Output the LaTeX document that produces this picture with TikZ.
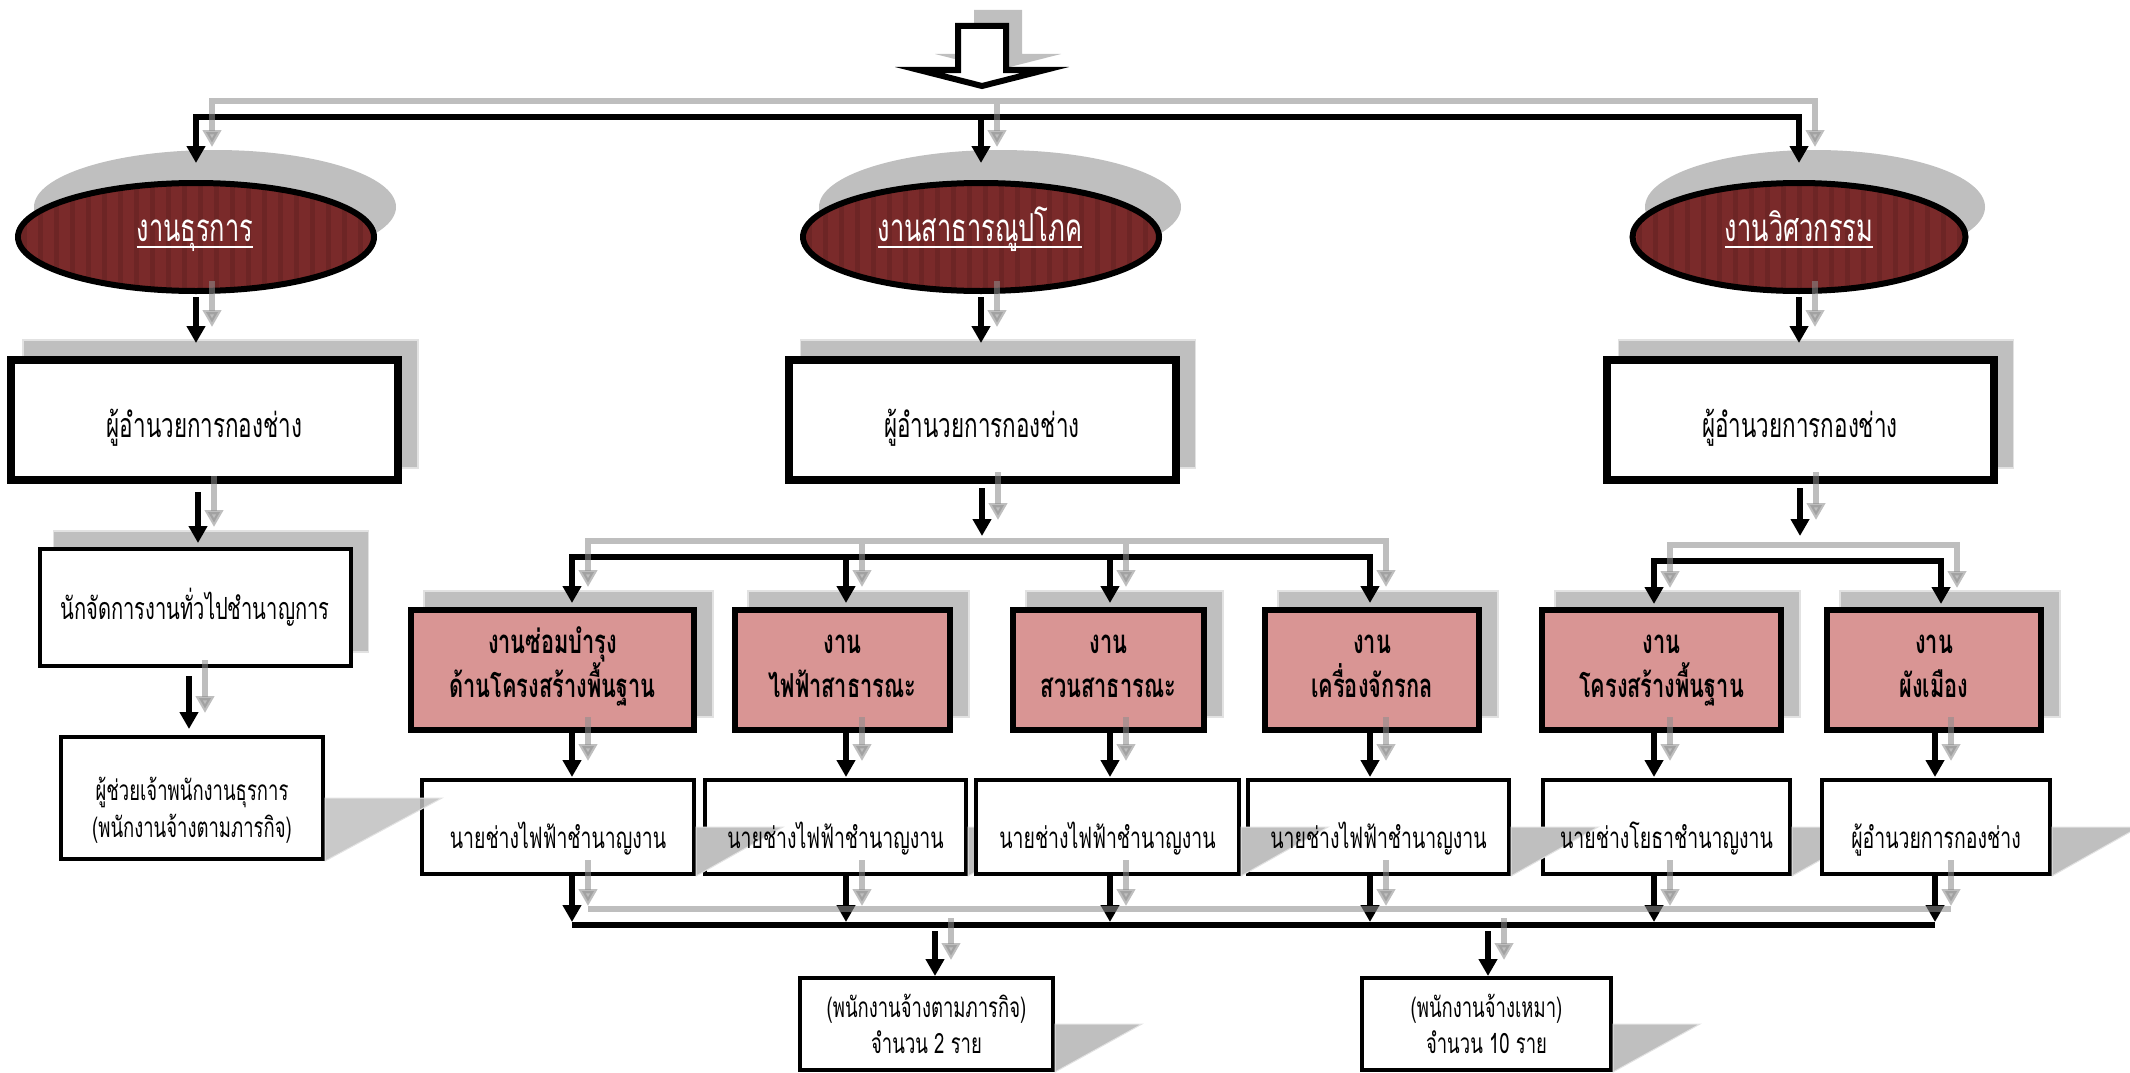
\documentclass[tikz,border=0pt]{standalone}
\usepackage{fontspec}
\newfontfamily\thai[Script=Thai,FakeStretch=0.66]{Loma}
\usetikzlibrary{shapes.geometric,arrows.meta,calc}
\definecolor{sg}{HTML}{BFBFBF}
\definecolor{sgl}{HTML}{E2E2E2}
\definecolor{er}{HTML}{7A2A2A}
\definecolor{ers}{HTML}{6D2525}
\definecolor{pk}{HTML}{D99594}
\definecolor{ag}{HTML}{8D8D8D}
\newcommand\tfs[2]{\fontsize{#1}{#2}\selectfont}
\tikzset{
 shbox/.style={rectangle, fill=sg, draw=sgl, line width=1.2, inner sep=0, outer sep=0},
 ellsh/.style={ellipse, fill=sg, inner sep=0, outer sep=0},
 thickbox/.style={rectangle, draw=black, fill=white, line width=8, inner sep=0},
 thinbox/.style={rectangle, draw=black, fill=white, line width=4, inner sep=0},
 pinkbox/.style={rectangle, draw=black, fill=pk, line width=6, inner sep=0},
 ellbox/.style={ellipse, draw=black, fill=er, line width=6, inner sep=0,
   path picture={\foreach \k in {0,...,24}{\fill[ers] ($(path picture bounding box.north west)+(\k*16+4,0)$) rectangle ($(path picture bounding box.south west)+(\k*16+9,0)$);}}},
 pshs/.style={fill=sg, draw=sgl, line width=1},
 tipa/.tip={Triangle[width=18pt,length=17pt]},
 bk/.style={draw=black, line width=5.5, -tipa},
 bk2/.style={draw=black, line width=5.5, tipa-tipa},
 bkl/.style={draw=black, line width=6},
 gy/.style={draw=ag, opacity=0.57, line width=5.5, -tipa},
 gy2/.style={draw=ag, opacity=0.57, line width=5.5, tipa-tipa},
 gyl/.style={draw=ag, opacity=0.57, line width=5.5},
 etx/.style={text=white, font=\thai\tfs{38.5}{38.5}, inner sep=0, anchor=base},
 rtx/.style={font=\thai\tfs{34}{34}, inner sep=0, anchor=base},
 btx/.style={font=\thai\tfs{30.5}{30.5}, inner sep=0, anchor=base},
 stx/.style={font=\thai\tfs{28}{28}, inner sep=0, anchor=base},
 ptx/.style={font=\thai\bfseries\tfs{33}{33}, inner sep=0, anchor=base},
 wtx/.style={font=\thai\tfs{29.5}{29.5}, inner sep=0, anchor=base},
}
\newcommand\psh[2]{\filldraw[pshs] (#1.east) -- ($(#1.east)+(#2,0)$) -- (#1.south east) -- cycle;}
\begin{document}
\begin{tikzpicture}[x=1pt,y=-1pt]
\useasboundingbox (0,0) rectangle (2130,1073);
% column positions
\coordinate (x1) at (572,0);
\coordinate (x2) at (846,0);
\coordinate (x3) at (1110,0);
\coordinate (x4) at (1370,0);
\coordinate (x5) at (1654,0);
\coordinate (x6) at (1941,0);
\coordinate (x6b) at (1935,0);
\coordinate (xl1) at (198,0);
\coordinate (xl2) at (189,0);
\coordinate (xc1) at (935,0);
\coordinate (xc2) at (1488,0);

% top block arrow
\fill[sg] (974,10) -- (1022,10) -- (1022,54) -- (1061,54) -- (998,70) -- (935,54) -- (974,54) -- cycle;
\draw[line width=6, fill=white] (958,26) -- (1006,26) -- (1006,70) -- (1045,70) -- (982,86) -- (919,70) -- (958,70) -- cycle;

% ellipses
\node[ellsh, minimum width=362, minimum height=114] (e1s) at (215,207) {};
\node[ellsh, minimum width=362, minimum height=114] (e2s) at (1000,207) {};
\node[ellsh, minimum width=340, minimum height=114] (e3s) at (1815,207) {};
\node[ellbox, minimum width=356, minimum height=108] (e1) at (196,237) {};
\node[ellbox, minimum width=356, minimum height=108] (e2) at (981,237) {};
\node[ellbox, minimum width=333, minimum height=108] (e3) at (1799,237) {};

% offset shadows
\node[shbox, minimum width=395, minimum height=128] (r1s) at (220.5,404) {};
\node[shbox, minimum width=395, minimum height=128] (r2s) at (998,404) {};
\node[shbox, minimum width=395, minimum height=128] (r3s) at (1816,404) {};
\node[shbox, minimum width=315, minimum height=121] (b3s) at (211,591.5) {};
\node[shbox, minimum width=289, minimum height=126] (p1s) at (568.5,654) {};
\node[shbox, minimum width=221, minimum height=126] (p2s) at (858.5,654) {};
\node[shbox, minimum width=197, minimum height=126] (p3s) at (1124.5,654) {};
\node[shbox, minimum width=220, minimum height=126] (p4s) at (1388,654) {};
\node[shbox, minimum width=245, minimum height=126] (p5s) at (1677.5,654) {};
\node[shbox, minimum width=220, minimum height=126] (p6s) at (1950,654) {};

% boxes
\node[thickbox, minimum width=387, minimum height=120] (r1) at (204.5,420) {};
\node[thickbox, minimum width=387, minimum height=120] (r2) at (982,420) {};
\node[thickbox, minimum width=387, minimum height=120] (r3) at (1800,420) {};
\node[thinbox, minimum width=311, minimum height=117] (b3) at (195,607.5) {};
\node[pinkbox, minimum width=283, minimum height=120] (p1) at (552.5,670) {};
\node[pinkbox, minimum width=215, minimum height=120] (p2) at (842.5,670) {};
\node[pinkbox, minimum width=191, minimum height=120] (p3) at (1108.5,670) {};
\node[pinkbox, minimum width=214, minimum height=120] (p4) at (1372,670) {};
\node[pinkbox, minimum width=239, minimum height=120] (p5) at (1661.5,670) {};
\node[pinkbox, minimum width=214, minimum height=120] (p6) at (1934,670) {};

\node[thinbox, minimum width=262, minimum height=122] (b4) at (192,798) {};
\node[thinbox, minimum width=272, minimum height=94] (w1) at (558,827) {};
\node[thinbox, minimum width=261, minimum height=94] (w2) at (835.5,827) {};
\node[thinbox, minimum width=261, minimum height=94] (w4) at (1378.5,827) {};
\node[thinbox, minimum width=247, minimum height=94] (w5) at (1666.5,827) {};
\begin{scope}[fill opacity=0.85]
\psh{b4}{117}
\end{scope}
\psh{w2}{87}
\psh{w5}{87}
\psh{w1}{87}
\psh{w4}{87}
\node[thinbox, minimum width=263, minimum height=94] (w3) at (1107.5,827) {};
\node[thinbox, minimum width=228, minimum height=94] (w6) at (1936,827) {};
\psh{w3}{87}
\psh{w6}{87}
\node[thinbox, minimum width=253, minimum height=92] (c1) at (926.5,1024) {};
\node[thinbox, minimum width=249, minimum height=92] (c2) at (1486.5,1024) {};
\psh{c1}{87}
\psh{c2}{87}

% ===== black connectors =====
\draw[bk2] ($(e1.north)+(0,-17)$) -- ($(e1.north)+(0,-63)$) -| ($(e3.north)+(0,-17)$);
\draw[bk] ($(e2.north)+(0,-60)$) -- ($(e2.north)+(0,-17)$);
\draw[bk] ($(e1.south)+(0,3)$) -- ($(r1.north -| e1.south)+(0,-13)$);
\draw[bk] ($(e2.south)+(0,3)$) -- ($(r2.north -| e2.south)+(0,-13)$);
\draw[bk] ($(e3.south)+(0,3)$) -- ($(r3.north -| e3.south)+(0,-13)$);
\draw[bk] ($(r1.south -| xl1)+(0,8)$) -- ($(b3.north -| xl1)+(0,-4)$);
\draw[bk] ($(b3.south -| xl2)+(0,8)$) -- ($(b4.north -| xl2)+(0,-6)$);
\draw[bk] ($(r2.south)+(0,4)$) -- ($(r2.south)+(0,52)$);
\draw[bk] ($(r3.south)+(0,4)$) -- ($(r3.south)+(0,52)$);
\draw[bk2] ($(p1.north -| x1)+(0,-4)$) -- ($(p1.north -| x1)+(0,-50)$) -| ($(p4.north -| x4)+(0,-4)$);
\draw[bk] ($(p2.north -| x2)+(0,-47)$) -- ($(p2.north -| x2)+(0,-4)$);
\draw[bk] ($(p3.north -| x3)+(0,-47)$) -- ($(p3.north -| x3)+(0,-4)$);
\draw[bk2] ($(p5.north -| x5)+(0,-3)$) -- ($(p5.north -| x5)+(0,-46)$) -| ($(p6.north -| x6)+(0,-3)$);
\draw[bk] (p1.south -| x1) -- ($(w1.north -| x1)+(0,-1)$);
\draw[bk] (p2.south -| x2) -- ($(w2.north -| x2)+(0,-1)$);
\draw[bk] (p3.south -| x3) -- ($(w3.north -| x3)+(0,-1)$);
\draw[bk] (p4.south -| x4) -- ($(w4.north -| x4)+(0,-1)$);
\draw[bk] (p5.south -| x5) -- ($(w5.north -| x5)+(0,-1)$);
\draw[bk] (p6.south -| x6b) -- ($(w6.north -| x6b)+(0,-1)$);
\draw[bk] (w1.south -| x1) -- ($(w1.south -| x1)+(0,46)$);
\draw[bk] (w2.south -| x2) -- ($(w2.south -| x2)+(0,46)$);
\draw[bk] (w3.south -| x3) -- ($(w3.south -| x3)+(0,46)$);
\draw[bk] (w4.south -| x4) -- ($(w4.south -| x4)+(0,46)$);
\draw[bk] (w5.south -| x5) -- ($(w5.south -| x5)+(0,46)$);
\draw[bk] (w6.south -| x6b) -- ($(w6.south -| x6b)+(0,46)$);
\draw[bkl] ($(w1.south -| x1)+(0,49)$) -- ($(w6.south -| x6b)+(0,49)$);
\draw[bk] ($(c1.north -| xc1)+(0,-45)$) -- (c1.north -| xc1);
\draw[bk] ($(c2.north -| xc2)+(0,-45)$) -- (c2.north -| xc2);

% ===== grey shadow connectors (offset 16,-16) =====
\draw[gy2] ($(e1.north)+(16,-33)$) -- ($(e1.north)+(16,-79)$) -| ($(e3.north)+(16,-33)$);
\draw[gy] ($(e2.north)+(16,-76)$) -- ($(e2.north)+(16,-33)$);
\draw[gy] ($(e1.south)+(16,-13)$) -- ($(r1.north -| e1.south)+(16,-29)$);
\draw[gy] ($(e2.south)+(16,-13)$) -- ($(r2.north -| e2.south)+(16,-29)$);
\draw[gy] ($(e3.south)+(16,-13)$) -- ($(r3.north -| e3.south)+(16,-29)$);
\draw[gy] ($(r1.south -| xl1)+(16,-8)$) -- ($(b3.north -| xl1)+(16,-20)$);
\draw[gy] ($(b3.south -| xl2)+(16,-8)$) -- ($(b4.north -| xl2)+(16,-22)$);
\draw[gy] ($(r2.south)+(16,-12)$) -- ($(r2.south)+(16,36)$);
\draw[gy] ($(r3.south)+(16,-12)$) -- ($(r3.south)+(16,36)$);
\draw[gy2] ($(p1.north -| x1)+(16,-20)$) -- ($(p1.north -| x1)+(16,-66)$) -| ($(p4.north -| x4)+(16,-20)$);
\draw[gy] ($(p2.north -| x2)+(16,-63)$) -- ($(p2.north -| x2)+(16,-20)$);
\draw[gy] ($(p3.north -| x3)+(16,-63)$) -- ($(p3.north -| x3)+(16,-20)$);
\draw[gy2] ($(p5.north -| x5)+(16,-19)$) -- ($(p5.north -| x5)+(16,-62)$) -| ($(p6.north -| x6)+(16,-19)$);
\draw[gy] ($(p1.south -| x1)+(16,-16)$) -- ($(w1.north -| x1)+(16,-17)$);
\draw[gy] ($(p2.south -| x2)+(16,-16)$) -- ($(w2.north -| x2)+(16,-17)$);
\draw[gy] ($(p3.south -| x3)+(16,-16)$) -- ($(w3.north -| x3)+(16,-17)$);
\draw[gy] ($(p4.south -| x4)+(16,-16)$) -- ($(w4.north -| x4)+(16,-17)$);
\draw[gy] ($(p5.south -| x5)+(16,-16)$) -- ($(w5.north -| x5)+(16,-17)$);
\draw[gy] ($(p6.south -| x6b)+(16,-16)$) -- ($(w6.north -| x6b)+(16,-17)$);
\draw[gy] ($(w1.south -| x1)+(16,-16)$) -- ($(w1.south -| x1)+(16,30)$);
\draw[gy] ($(w2.south -| x2)+(16,-16)$) -- ($(w2.south -| x2)+(16,30)$);
\draw[gy] ($(w3.south -| x3)+(16,-16)$) -- ($(w3.south -| x3)+(16,30)$);
\draw[gy] ($(w4.south -| x4)+(16,-16)$) -- ($(w4.south -| x4)+(16,30)$);
\draw[gy] ($(w5.south -| x5)+(16,-16)$) -- ($(w5.south -| x5)+(16,30)$);
\draw[gy] ($(w6.south -| x6b)+(16,-16)$) -- ($(w6.south -| x6b)+(16,30)$);
\draw[gyl] ($(w1.south -| x1)+(16,33)$) -- ($(w6.south -| x6b)+(16,33)$);
\draw[gy] ($(c1.north -| xc1)+(16,-58)$) -- ($(c1.north -| xc1)+(16,-16)$);
\draw[gy] ($(c2.north -| xc2)+(16,-58)$) -- ($(c2.north -| xc2)+(16,-16)$);

% ===== texts =====
\node[etx] (te1) at (195,241) {งานธุรการ};
\node[etx] (te2) at (980,241) {งานสาธารณูปโภค};
\node[etx] (te3) at (1799,241) {งานวิศวกรรม};
\draw[white, line width=2.2] ($(te1.base west)+(0,6)$) -- ($(te1.base east)+(0,6)$);
\draw[white, line width=2.2] ($(te2.base west)+(0,6)$) -- ($(te2.base east)+(0,6)$);
\draw[white, line width=2.2] ($(te3.base west)+(0,6)$) -- ($(te3.base east)+(0,6)$);
\node[rtx] (tr1) at (204.5,437) {ผู้อำนวยการกองช่าง};
\node[rtx] (tr2) at (982,437) {ผู้อำนวยการกองช่าง};
\node[rtx] (tr3) at (1800,437) {ผู้อำนวยการกองช่าง};
\node[btx] (tb3) at (195,619) {นักจัดการงานทั่วไปชำนาญการ};
\node[stx] (tb4a) at (192,800) {ผู้ช่วยเจ้าพนักงานธุรการ};
\node[stx] (tb4b) at (192,837) {(พนักงานจ้างตามภารกิจ)};
\node[ptx] (tp1a) at (552.5,653) {งานซ่อมบำรุง};
\node[ptx] (tp1b) at (552.5,697) {ด้านโครงสร้างพื้นฐาน};
\node[ptx] (tp2a) at (842.5,653) {งาน};
\node[ptx] (tp2b) at (842.5,697) {ไฟฟ้าสาธารณะ};
\node[ptx] (tp3a) at (1108.5,653) {งาน};
\node[ptx] (tp3b) at (1108.5,697) {สวนสาธารณะ};
\node[ptx] (tp4a) at (1372,653) {งาน};
\node[ptx] (tp4b) at (1372,697) {เครื่องจักรกล};
\node[ptx] (tp5a) at (1661.5,653) {งาน};
\node[ptx] (tp5b) at (1661.5,697) {โครงสร้างพื้นฐาน};
\node[ptx] (tp6a) at (1934,653) {งาน};
\node[ptx] (tp6b) at (1934,697) {ผังเมือง};
\node[wtx] (tw1) at (558,848) {นายช่างไฟฟ้าชำนาญงาน};
\node[wtx] (tw2) at (835.5,848) {นายช่างไฟฟ้าชำนาญงาน};
\node[wtx] (tw3) at (1107.5,848) {นายช่างไฟฟ้าชำนาญงาน};
\node[wtx] (tw4) at (1378.5,848) {นายช่างไฟฟ้าชำนาญงาน};
\node[wtx] (tw5) at (1666.5,848) {นายช่างโยธาชำนาญงาน};
\node[wtx] (tw6) at (1936,848) {ผู้อำนวยการกองช่าง};
\node[stx] (tc1a) at (926.5,1017) {(พนักงานจ้างตามภารกิจ)};
\node[stx] (tc1b) at (926.5,1053) {จำนวน 2 ราย};
\node[stx] (tc2a) at (1486.5,1017) {(พนักงานจ้างเหมา)};
\node[stx] (tc2b) at (1486.5,1053) {จำนวน 10 ราย};
\end{tikzpicture}
\end{document}
